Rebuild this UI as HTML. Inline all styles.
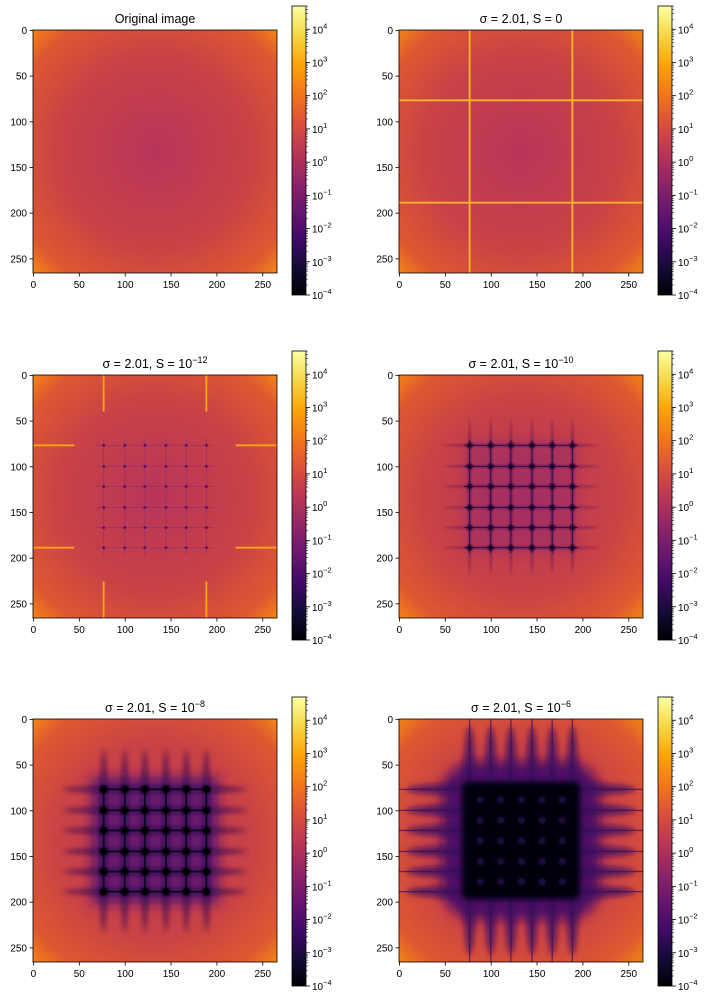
<!DOCTYPE html>
<html><head><meta charset="utf-8">
<style>
body{margin:0;background:#fff;width:710px;height:1000px;overflow:hidden;font-family:"Liberation Sans","DejaVu Sans",sans-serif}
svg{position:absolute;left:0;top:0}
</style></head>
<body>
<svg id="fig" width="710" height="1000" xmlns="http://www.w3.org/2000/svg">
<defs>
<radialGradient id="bg" cx="0.5" cy="0.5" r="0.72">
<stop offset="0" stop-color="#b8355a"/>
<stop offset="0.55" stop-color="#c94246"/>
<stop offset="0.85" stop-color="#e0582f"/>
<stop offset="1" stop-color="#f58c12"/>
</radialGradient>
<linearGradient id="cmap" x1="0" y1="1" x2="0" y2="0">
<stop offset="0" stop-color="#000004"/><stop offset="0.1" stop-color="#160b39"/>
<stop offset="0.2" stop-color="#420a68"/><stop offset="0.3" stop-color="#6a176e"/>
<stop offset="0.4" stop-color="#932667"/><stop offset="0.5" stop-color="#bc3754"/>
<stop offset="0.6" stop-color="#dd513a"/><stop offset="0.7" stop-color="#f37819"/>
<stop offset="0.8" stop-color="#fca50a"/><stop offset="0.9" stop-color="#f6d746"/>
<stop offset="1" stop-color="#fcffa4"/>
</linearGradient>
<filter id="b1" x="-50%" y="-50%" width="200%" height="200%"><feGaussianBlur stdDeviation="1.2"/></filter>
<filter id="b3" x="-50%" y="-50%" width="200%" height="200%"><feGaussianBlur stdDeviation="3"/></filter>
<filter id="b6" x="-50%" y="-50%" width="200%" height="200%"><feGaussianBlur stdDeviation="6"/></filter>
</defs>
</svg>
<script>
const grid=[77,100,122,145,167,189];
const xTicks=[0,50,100,150,200,250];
const yTicks=[0,50,100,150,200,250];
const cbExps=[-4,-3,-2,-1,0,1,2,3,4];
const titles=["Original image","σ = 2.01, S = 0","σ = 2.01, S = 10^-12","σ = 2.01, S = 10^-10","σ = 2.01, S = 10^-8","σ = 2.01, S = 10^-6"];
const modes=["orig","s0","s12","s10","s8","s6"];
const N=266;
const NS="http://www.w3.org/2000/svg";
const fig=document.getElementById('fig');
function mk(tag,attrs,parent){const e=document.createElementNS(NS,tag);for(const k in attrs)e.setAttribute(k,attrs[k]);(parent||fig).appendChild(e);return e;}
const colL=[33,399], rowT=[30,375,719], AW=244, AH=243;
const cbL=[292,658], cbT=[6,351,697], CBH=289;
function title(t,x,y,g){
  const e=mk('text',{x:x,y:y,'text-anchor':'middle','font-size':12.5,fill:'#000'},g);
  const m=t.match(/^(.*10)\^(-?\d+)$/);
  if(m){e.appendChild(document.createTextNode(m[1]));const ts=mk('tspan',{dy:-5,'font-size':9},e);ts.textContent=m[2].replace('-','−');}
  else e.textContent=t;
  return e;
}
for(let i=0;i<6;i++){
  const c=i%2,r=Math.floor(i/2);
  const ax=colL[c],ay=rowT[r];
  const g=mk('g',{});
  
  
  const sx=v=>ax+v*AW/N, sy=v=>ay+v*AH/N;
  const img=mk('g',{transform:`translate(${ax},${ay}) scale(${AW/N},${AH/N})`},g);
  
  
  const cp=mk('clipPath',{id:'cp'+i},g);mk('rect',{x:0,y:0,width:N,height:N},cp);
  img.setAttribute('clip-path','url(#cp'+i+')');
  mk('rect',{x:0,y:0,width:N,height:N,fill:'url(#bg)'},img);
  const m=modes[i];
  const lo=grid[0],hi=grid[grid.length-1];
  if(m==='s0'){
    [lo,hi].forEach(p=>{mk('rect',{x:p-1,y:0,width:2,height:N,fill:'#fbb42a'},img);mk('rect',{x:0,y:p-1,width:N,height:2,fill:'#fbb42a'},img);});
  }
  if(m==='s12'){
    [lo,hi].forEach(p=>{
      mk('rect',{x:p-1,y:0,width:2,height:40,fill:'#fba51a'},img);mk('rect',{x:p-1,y:226,width:2,height:40,fill:'#fba51a'},img);
      mk('rect',{x:0,y:p-1,width:45,height:2,fill:'#fba51a'},img);mk('rect',{x:221,y:p-1,width:45,height:2,fill:'#fba51a'},img);
    });
    grid.forEach(p=>{mk('rect',{x:p-0.5,y:lo-8,width:1,height:hi-lo+16,fill:'#8a2870',opacity:0.5},img);mk('rect',{x:lo-8,y:p-0.5,width:hi-lo+16,height:1,fill:'#8a2870',opacity:0.5},img);});
    grid.forEach(a=>grid.forEach(b=>mk('circle',{cx:a,cy:b,r:1.6,fill:'#5a1270'},img)));
  }
  if(m==='s10'){
    mk('rect',{x:lo-5,y:lo-5,width:hi-lo+10,height:hi-lo+10,fill:'#8a2670',opacity:0.4,filter:'url(#b6)'},img);
    grid.forEach(p=>{
      mk('ellipse',{cx:p,cy:133,rx:1.5,ry:85,fill:'#3a0c5e',opacity:0.5,filter:'url(#b1)'},img);
      mk('ellipse',{cx:133,cy:p,rx:85,ry:1.5,fill:'#3a0c5e',opacity:0.5,filter:'url(#b1)'},img);
      mk('rect',{x:p-0.5,y:lo-6,width:1,height:hi-lo+12,fill:'#2a0a4e'},img);
      mk('rect',{x:lo-6,y:p-0.5,width:hi-lo+12,height:1,fill:'#2a0a4e'},img);
    });
    grid.forEach(a=>grid.forEach(b=>mk('circle',{cx:a,cy:b,r:3,fill:'#0a0420',filter:'url(#b1)'},img)));
  }
  if(m==='s8'){
    mk('rect',{x:lo-14,y:lo-14,width:hi-lo+28,height:hi-lo+28,fill:'#5a1270',opacity:0.85,filter:'url(#b6)'},img);
    grid.forEach(p=>{
      mk('ellipse',{cx:p,cy:133,rx:3.5,ry:100,fill:'#2a0a50',opacity:0.8,filter:'url(#b3)'},img);
      mk('ellipse',{cx:133,cy:p,rx:100,ry:3.5,fill:'#2a0a50',opacity:0.8,filter:'url(#b3)'},img);
      mk('rect',{x:p-1,y:lo-4,width:2,height:hi-lo+8,fill:'#0c0424'},img);
      mk('rect',{x:lo-4,y:p-1,width:hi-lo+8,height:2,fill:'#0c0424'},img);
    });
    grid.forEach(a=>grid.forEach(b=>mk('circle',{cx:a,cy:b,r:4.5,fill:'#000004',filter:'url(#b1)'},img)));
  }
  if(m==='s6'){
    mk('rect',{x:lo-30,y:lo-30,width:hi-lo+60,height:hi-lo+60,rx:35,fill:'#4a0c6a',opacity:0.9,filter:'url(#b6)'},img);
    grid.forEach(p=>{
      mk('ellipse',{cx:p,cy:133,rx:9,ry:125,fill:'#3a0a60',opacity:0.75,filter:'url(#b3)'},img);
      mk('ellipse',{cx:133,cy:p,rx:125,ry:9,fill:'#3a0a60',opacity:0.75,filter:'url(#b3)'},img);
      mk('rect',{x:p-0.7,y:0,width:1.4,height:N,fill:'#3a0c5a',opacity:0.7},img);
      mk('rect',{x:0,y:p-0.7,width:N,height:1.4,fill:'#3a0c5a',opacity:0.7},img);
    });
    mk('rect',{x:lo-8,y:lo-8,width:hi-lo+16,height:hi-lo+16,rx:6,fill:'#02010a',filter:'url(#b3)'},img);
    for(let a=0;a<grid.length-1;a++)for(let b=0;b<grid.length-1;b++)
      mk('circle',{cx:(grid[a]+grid[a+1])/2,cy:(grid[b]+grid[b+1])/2,r:4,fill:'#1c0a3a',filter:'url(#b1)'},img);
  }
  const fr=mk('rect',{x:ax,y:ay,width:AW,height:AH,fill:'none',stroke:'#000','stroke-width':0.8},g);
  
  xTicks.forEach(t=>{const x=sx(t+0.5);mk('line',{x1:x,x2:x,y1:ay+AH,y2:ay+AH+3.5,stroke:'#000','stroke-width':0.8},g);
    const tx=mk('text',{x:x,y:ay+AH+15,'text-anchor':'middle','font-size':10},g);tx.textContent=t;
    });
  yTicks.forEach(t=>{const y=sy(t+0.5);mk('line',{x1:ax-3.5,x2:ax,y1:y,y2:y,stroke:'#000','stroke-width':0.8},g);
    const tx=mk('text',{x:ax-6,y:y+3.5,'text-anchor':'end','font-size':10},g);tx.textContent=t;
    });
  const tt=title(titles[i],ax+AW/2,ay-7,g);
  
  const cx=cbL[c],cy=cbT[r];
  const cb=mk('g',{},g);
  
  mk('rect',{x:cx,y:cy,width:14,height:CBH,fill:'url(#cmap)',stroke:'#000','stroke-width':0.8},cb);
  const lmin=-4,lmax=4.7;
  const cyv=l=>cy+CBH-(l-lmin)/(lmax-lmin)*CBH;
  cbExps.forEach(e=>{const y=cyv(e);mk('line',{x1:cx+14,x2:cx+18,y1:y,y2:y,stroke:'#000','stroke-width':0.8},cb);
    for(let k=2;k<10&&e<4.7;k++){const yy=cyv(e+Math.log10(k));if(yy>=cy)mk('line',{x1:cx+14,x2:cx+16,y1:yy,y2:yy,stroke:'#000','stroke-width':0.5},cb);}
    const tx=mk('text',{x:cx+20,y:y+4,'font-size':10},cb);tx.appendChild(document.createTextNode('10'));
    const s=mk('tspan',{dy:-5,'font-size':7.5},tx);s.textContent=String(e).replace('-','−');
    });
}
</script>
</body></html>
